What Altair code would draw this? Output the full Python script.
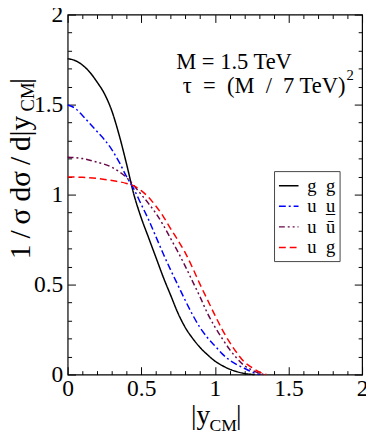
import altair as alt
import pandas as pd

FONT = "Liberation Serif"

# ---- data ----
series_names = ["g\u2002g", "u\u2002u\u0332", "u\u2002u\u0304", "u\u2002g"]
series_colors = ["#000000", "#0000ff", "#670748", "#ff0000"]
series_dashes = [[1, 0], [7, 3, 2, 3], [6, 3, 2, 3, 2, 3], [7, 4]]

x_gg = [0, 0.05, 0.1, 0.15, 0.2, 0.25, 0.3, 0.35, 0.4, 0.45, 0.5, 0.55, 0.6, 0.65,
        0.7, 0.75, 0.8, 0.85, 0.9, 0.95, 1.0, 1.05, 1.1, 1.15, 1.2, 1.27]
y_gg = [1.755, 1.745, 1.72, 1.68, 1.625, 1.56, 1.465, 1.33, 1.17, 1.0, 0.87, 0.76,
        0.65, 0.54, 0.44, 0.34, 0.26, 0.20, 0.15, 0.11, 0.075, 0.05, 0.03, 0.016, 0.006, 0]

x_uu = [0, 0.05, 0.1, 0.15, 0.2, 0.25, 0.3, 0.35, 0.4, 0.45, 0.5, 0.55, 0.6, 0.65,
        0.7, 0.75, 0.8, 0.85, 0.9, 0.95, 1.0, 1.05, 1.1, 1.15, 1.2, 1.25, 1.3]
y_uu = [1.498, 1.48, 1.44, 1.395, 1.35, 1.305, 1.25, 1.18, 1.10, 1.03, 0.945, 0.86,
        0.765, 0.67, 0.58, 0.495, 0.41, 0.33, 0.26, 0.205, 0.16, 0.115, 0.08, 0.055,
        0.035, 0.015, 0]

x_uubar = [0, 0.1, 0.2, 0.3, 0.35, 0.4, 0.45, 0.5, 0.55, 0.6, 0.65, 0.7, 0.75, 0.8,
           0.85, 0.9, 0.95, 1.0, 1.05, 1.1, 1.15, 1.2, 1.25, 1.3, 1.33]
y_uubar = [1.208, 1.20, 1.18, 1.152, 1.127, 1.095, 1.05, 1.0, 0.95, 0.895, 0.83, 0.755,
           0.68, 0.60, 0.515, 0.43, 0.34, 0.265, 0.20, 0.14, 0.09, 0.05, 0.026, 0.008, 0]

x_ug = [0, 0.1, 0.2, 0.3, 0.4, 0.45, 0.5, 0.55, 0.6, 0.65, 0.7, 0.75, 0.8, 0.85, 0.9,
        0.95, 1.0, 1.05, 1.1, 1.15, 1.2, 1.25, 1.3, 1.35]
y_ug = [1.098, 1.096, 1.09, 1.078, 1.062, 1.048, 1.022, 0.985, 0.935, 0.878, 0.81,
        0.745, 0.675, 0.59, 0.50, 0.415, 0.33, 0.25, 0.18, 0.12, 0.07, 0.04, 0.015, 0]

major_ticks = [0, 0.5, 1, 1.5, 2]
minor_ticks = [0.1, 0.2, 0.3, 0.4, 0.6, 0.7, 0.8, 0.9, 1.1, 1.2, 1.3, 1.4,
               1.6, 1.7, 1.8, 1.9]

# ---- build table ----
frames = []
for name, xs_, ys_ in zip(series_names, [x_gg, x_uu, x_uubar, x_ug],
                          [y_gg, y_uu, y_uubar, y_ug]):
    frames.append(pd.DataFrame({"x": xs_, "y": ys_, "series": name}))
df = pd.concat(frames, ignore_index=True)

W, H = 301, 368
xscale = alt.Scale(domain=[0, 2], nice=False, zero=False)
yscale = alt.Scale(domain=[0, 2], nice=False, zero=False)

def label_axis(orient):
    return alt.Axis(orient=orient, values=major_ticks, ticks=False, tickSize=0,
                    domain=False, grid=False, labelFont=FONT, labelFontSize=24,
                    labelColor="black", labelPadding=5 if orient == "left" else 2,
                    labelFlush=False, labelOverlap=False, format="~g", title=None)

def tick_axis(orient, values, size):
    return alt.Axis(orient=orient, values=values, labels=False, domain=False,
                    grid=False, ticks=True, tickSize=size, offset=-size,
                    tickColor="black", tickWidth=1, title=None)

legend = alt.Legend(orient="none", legendX=211, legendY=160, title=None,
                    symbolType="stroke", symbolSize=400, symbolStrokeWidth=1.5,
                    labelFont=FONT, labelFontSize=19, labelColor="black",
                    labelOffset=8, padding=4, rowPadding=0,
                    strokeColor="#444444", fillColor="white")

lines = alt.Chart(df).mark_line(strokeWidth=1.5, interpolate="monotone").encode(
    x=alt.X("x:Q", scale=xscale, axis=label_axis("bottom")),
    y=alt.Y("y:Q", scale=yscale, axis=label_axis("left")),
    color=alt.Color("series:N", scale=alt.Scale(domain=series_names, range=series_colors),
                    sort=series_names, legend=legend),
    strokeDash=alt.StrokeDash("series:N",
                              scale=alt.Scale(domain=series_names, range=series_dashes),
                              sort=series_names, legend=legend),
)

def hidden(xo, yo, vals, size):
    return alt.Chart(df).mark_point(opacity=0).encode(
        x=alt.X("x:Q", scale=xscale, axis=tick_axis(xo, vals, size)),
        y=alt.Y("y:Q", scale=yscale, axis=tick_axis(yo, vals, size)),
    )

h1 = hidden("bottom", "left", major_ticks, 8)
h2 = hidden("bottom", "left", minor_ticks, 4)
h3 = hidden("top", "right", major_ticks, 8)
h4 = hidden("top", "right", minor_ticks, 4)

def txt(s, x, y, size, align="left", angle=0):
    kw = dict(font=FONT, fontSize=size, align=align, color="black")
    if angle:
        kw["angle"] = angle
    return alt.Chart(pd.DataFrame({"t": [s]})).mark_text(**kw).encode(
        text="t:N", x=alt.value(x), y=alt.value(y))

texts = [
    txt("M = 1.5 TeV", 111, 49, 23),
    txt("\u03c4\u2002=\u2002(M\u2002/\u20027 TeV)", 284, 73, 23, align="right"),
    txt("2", 285, 62, 15),
    # x title
    txt("|y", 126, 411, 28),
    txt("CM", 145, 421, 18),
    txt("|", 172, 411, 28),
    # y title
    txt("1\u2009/\u2009\u03c3 d\u03c3\u2009/\u2009d|y", -48, 250, 30, angle=270),
    txt("CM", -40, 99, 19, angle=270),
    txt("|", -48, 71, 30, angle=270),
]

chart = alt.layer(h1, h2, h3, h4, lines, *texts).resolve_axis(
    x="independent", y="independent"
).properties(
    width=W, height=H,
    autosize=alt.AutoSizeParams(type="none"),
    padding={"left": 61, "top": 2, "right": 4, "bottom": 56},
).configure(font=FONT).configure_view(stroke="black", strokeWidth=1.2).configure_axis(grid=False)

chart.save("out.html", embed_options={"renderer": "svg", "actions": False})
